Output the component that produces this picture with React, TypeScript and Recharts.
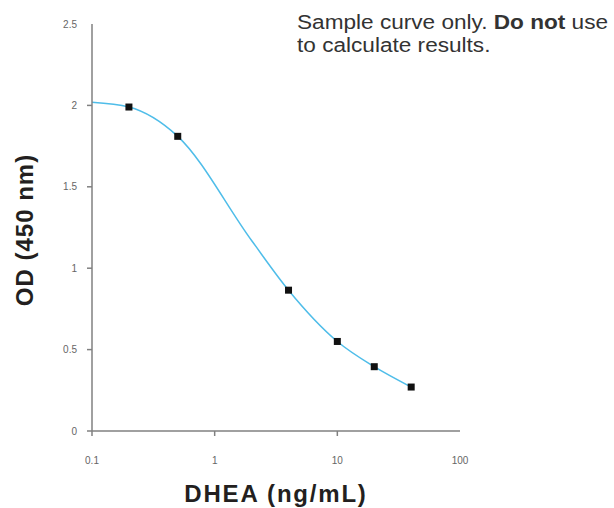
import React from 'react';
import { ComposedChart, Line, Scatter, XAxis, YAxis } from 'recharts';

// standard concentrations (ng/mL) and measured OD
const standardConc = [0.2, 0.5, 4, 10, 20, 40];
const standardOD = [1.99, 1.81, 0.865, 0.55, 0.395, 0.27];

// fitted curve
const curveConc = [0.1, 0.2, 0.5, 2, 4, 10, 20, 40];
const curveOD = [2.02, 1.99, 1.81, 1.17, 0.865, 0.55, 0.395, 0.27];

const xTicks = [0.1, 1, 10, 100];
const yTicks = [0, 0.5, 1, 1.5, 2, 2.5];

const AXIS = '#808080';
const LEFT = 92;
const BOTTOM = 431;

const points = standardConc.map((c, i) => ({ conc: c, od: standardOD[i] }));
const curve = curveConc.map((c, i) => ({ conc: c, od: curveOD[i] }));

const YTick = (props: any) => {
  const { y, payload } = props;
  const last = payload.value === yTicks[yTicks.length - 1];
  return (
    <g>
      {!last && <line x1={LEFT - 5} x2={LEFT} y1={y} y2={y} stroke={AXIS} strokeWidth={1.5} />}
      <text x={LEFT - 15} y={y + 3.5} textAnchor="end" fontSize={10} fill="#666">
        {payload.value}
      </text>
    </g>
  );
};

const XTick = (props: any) => {
  const { x, payload } = props;
  const last = payload.value === xTicks[xTicks.length - 1];
  return (
    <g>
      {!last && <line x1={x} x2={x} y1={BOTTOM} y2={BOTTOM + 5} stroke={AXIS} strokeWidth={1.5} />}
      <text x={x} y={BOTTOM + 33} textAnchor="middle" fontSize={10} fill="#666">
        {payload.value}
      </text>
    </g>
  );
};

// small black square marker
const Marker = (props: any) => {
  const { cx, cy } = props;
  return <rect x={cx - 3.5} y={cy - 3.5} width={7} height={7} fill="#111" />;
};

export default function App() {
  const font = '"Liberation Sans", Arial, sans-serif';
  return (
    <div style={{ position: 'absolute', left: 0, top: 0, width: 614, height: 508, fontFamily: font, background: '#fff' }}>
      <ComposedChart
        width={614}
        height={508}
        margin={{ top: 24, right: 154, bottom: 47, left: 52 }}
        style={{ fontFamily: font }}
      >
        <XAxis
          dataKey="conc"
          type="number"
          scale="log"
          domain={[0.1, 100]}
          ticks={xTicks}
          allowDataOverflow
          height={30}
          stroke={AXIS}
          strokeWidth={1.5}
          tickLine={false}
          tick={<XTick />}
        />
        <YAxis
          dataKey="od"
          type="number"
          domain={[0, 2.5]}
          ticks={yTicks}
          width={40}
          stroke={AXIS}
          strokeWidth={1.5}
          tickLine={false}
          tick={<YTick />}
        />
        <Line
          data={curve}
          dataKey="od"
          type="monotone"
          stroke="#4fbde9"
          strokeWidth={1.5}
          dot={false}
          isAnimationActive={false}
        />
        <Scatter
          data={points}
          dataKey="od"
          fill="#111"
          shape={<Marker />}
          isAnimationActive={false}
        />
      </ComposedChart>
      <div
        style={{
          position: 'absolute',
          left: 297,
          top: 11,
          fontSize: 20,
          lineHeight: '23px',
          color: '#333',
          whiteSpace: 'nowrap',
          transform: 'scaleX(1.13)',
          transformOrigin: 'left top',
        }}
      >
        Sample curve only. <b>Do not</b> use
        <br />
        to calculate results.
      </div>
      <div
        style={{
          position: 'absolute',
          left: 92,
          width: 368,
          top: 480,
          textAlign: 'center',
          fontSize: 24,
          fontWeight: 'bold',
          color: '#231f20',
          letterSpacing: 1.8,
        }}
      >
        DHEA (ng/mL)
      </div>
      <div
        style={{
          position: 'absolute',
          left: 25,
          top: 230,
          transform: 'translate(-50%, -50%) rotate(-90deg)',
          fontSize: 24,
          fontWeight: 'bold',
          color: '#231f20',
          whiteSpace: 'nowrap',
          letterSpacing: 1,
        }}
      >
        OD (450 nm)
      </div>
    </div>
  );
}
